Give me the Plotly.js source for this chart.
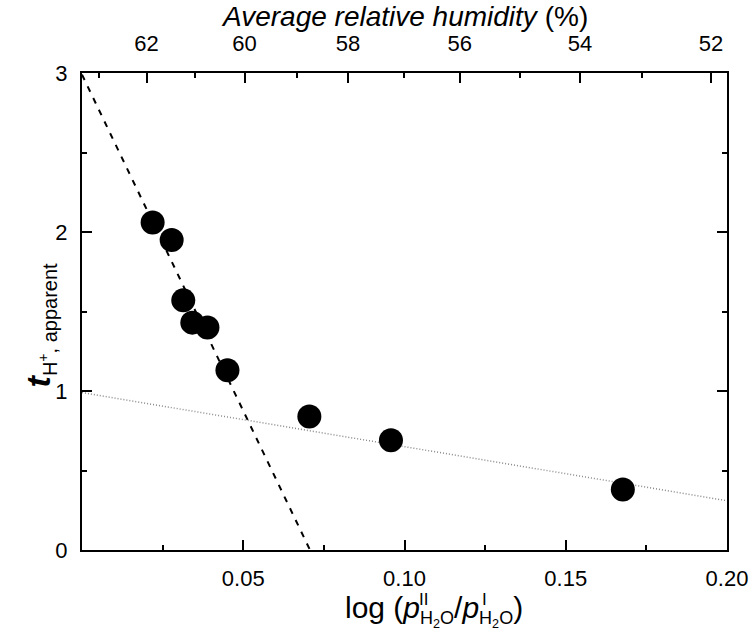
<!DOCTYPE html>
<html>
<head>
<meta charset="utf-8">
<script src="https://cdn.plot.ly/plotly-3.0.1.min.js"></script>
<style>html,body{margin:0;padding:0;background:#fff;}</style>
</head>
<body>
<div id="chart" style="width:753px;height:638px;"></div>
<script>
// Measured points: x = log(pII/pI), y = apparent transference number
const logRatio = [0.0219, 0.0278, 0.0314, 0.0342, 0.0389, 0.0451, 0.0705, 0.0958, 0.1677];
const tApparent = [2.06, 1.95, 1.57, 1.43, 1.40, 1.13, 0.84, 0.69, 0.38];

// Fitted lines
const steepFitX = [0.0, 0.0707];
const steepFitY = [2.99, 0.0];
const shallowFitX = [0.0, 0.20];
const shallowFitY = [0.99, 0.31];

// Bottom axis ticks
const xMajorTicks = [0.05, 0.10, 0.15, 0.20];
const xMajorLabels = ["0.05", "0.10", "0.15", "0.20"];
const xMinorTicks = [0.025, 0.075, 0.125, 0.175];

// Left axis ticks
const yMajorTicks = [0, 1, 2, 3];
const yMajorLabels = ["0", "1", "2", "3"];
const yMinorTicks = [0.5, 1.5, 2.5];

// Top axis: average relative humidity (%) at positions on the log-ratio scale
const humidityLabels = ["62", "60", "58", "56", "54", "52"];
const humidityPos = [0.0200, 0.0504, 0.0825, 0.1171, 0.1544, 0.1950];
const humidityMinorPos = [0.0054, 0.0350, 0.0666, 0.0998, 0.1358, 0.1736];

const FONT = "Liberation Sans, Arial, Helvetica, sans-serif";

const traces = [
  {
    x: shallowFitX, y: shallowFitY, mode: "lines", type: "scatter",
    line: {color: "#8a8a8a", width: 1.5, dash: "1px,2px"},
    hoverinfo: "skip", showlegend: false
  },
  {
    x: steepFitX, y: steepFitY, mode: "lines", type: "scatter",
    line: {color: "#000", width: 2, dash: "6px,7px"},
    hoverinfo: "skip", showlegend: false
  },
  {
    x: logRatio, y: tApparent, mode: "markers", type: "scatter",
    marker: {size: 24, color: "#000", line: {width: 0}},
    showlegend: false
  },
  {
    x: humidityPos, y: humidityPos.map(() => null), xaxis: "x2", yaxis: "y",
    mode: "markers", type: "scatter", hoverinfo: "skip", showlegend: false
  }
];

const commonAxis = {
  showline: true, linewidth: 2, linecolor: "#000",
  ticks: "inside", ticklen: 10, tickwidth: 2, tickcolor: "#000",
  showgrid: false, zeroline: false,
  tickfont: {family: FONT, size: 22, color: "#000"}
};

const layout = {
  width: 753, height: 638,
  margin: {l: 82, r: 26, t: 73, b: 88, pad: 0},
  paper_bgcolor: "#fff", plot_bgcolor: "#fff",
  font: {family: FONT, size: 22, color: "#000"},
  xaxis: Object.assign({}, commonAxis, {
    range: [0, 0.2], tickmode: "array", tickvals: xMajorTicks, ticktext: xMajorLabels,
    ticklabelstandoff: 8,
    minor: {tickmode: "array", tickvals: xMinorTicks, ticks: "inside", ticklen: 5, tickwidth: 2, tickcolor: "#000"}
  }),
  xaxis2: Object.assign({}, commonAxis, {
    overlaying: "x", side: "top", anchor: "y",
    range: [0, 0.2], tickmode: "array", tickvals: humidityPos, ticktext: humidityLabels,
    ticklabelstandoff: 11,
    minor: {tickmode: "array", tickvals: humidityMinorPos, ticks: "inside", ticklen: 5, tickwidth: 2, tickcolor: "#000"}
  }),
  yaxis: Object.assign({}, commonAxis, {
    range: [0, 3], tickmode: "array", tickvals: yMajorTicks, ticktext: yMajorLabels,
    mirror: "ticks", ticklabelstandoff: 8,
    minor: {tickmode: "array", tickvals: yMinorTicks, ticks: "inside", ticklen: 5, tickwidth: 2, tickcolor: "#000"}
  }),
  annotations: [
    {
      xref: "paper", yref: "paper", x: 0.5, y: 1.119, xanchor: "center", yanchor: "middle",
      showarrow: false, text: "<i>Average relative humidity</i> (%)",
      font: {family: FONT, size: 28, color: "#000"}
    },
    {
      xref: "paper", yref: "paper", x: 0.546, y: -0.128, xanchor: "center", yanchor: "middle",
      showarrow: false,
      text: "log (<i>p</i><sub><span style='font-size:18px'>H<sub>2</sub>O</span></sub>/<i>p</i><sub><span style='font-size:18px'>H<sub>2</sub>O</span></sub>)",
      font: {family: FONT, size: 30, color: "#000"}
    },
    {
      xref: "paper", yref: "paper", x: 0.5295, y: -0.104, xanchor: "center", yanchor: "middle",
      showarrow: false, text: "II", font: {family: FONT, size: 17, color: "#000"}
    },
    {
      xref: "paper", yref: "paper", x: 0.6235, y: -0.104, xanchor: "center", yanchor: "middle",
      showarrow: false, text: "I", font: {family: FONT, size: 17, color: "#000"}
    },
    {
      xref: "paper", yref: "paper", x: -0.065, y: 0.471, xanchor: "center", yanchor: "middle",
      textangle: -90, showarrow: false,
      text: "<b><i>t</i></b><sub><span style='font-size:20px'>H<sup>+</sup>, apparent</span></sub>",
      font: {family: FONT, size: 34, color: "#000"}
    }
  ]
};

Plotly.newPlot("chart", traces, layout, {displayModeBar: false, staticPlot: true});
</script>
</body>
</html>
